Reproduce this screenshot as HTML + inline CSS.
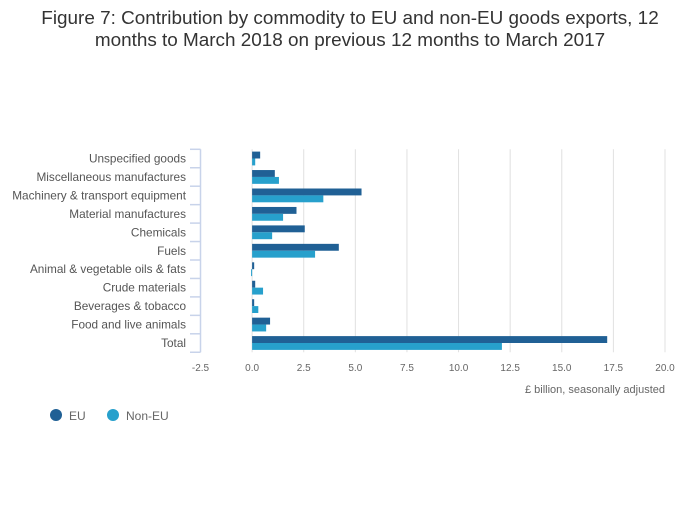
<!DOCTYPE html>
<html><head><meta charset="utf-8"><style>
body{margin:0;background:#fff;font-family:"Liberation Sans",sans-serif;}
</style></head><body>
<svg id="c" width="700" height="502" xmlns="http://www.w3.org/2000/svg">
<text x="350" y="24" text-anchor="middle" font-size="18.9" fill="#333">Figure 7: Contribution by commodity to EU and non-EU goods exports, 12</text>
<text x="350" y="46" text-anchor="middle" font-size="18.9" fill="#333">months to March 2018 on previous 12 months to March 2017</text>
<g id="grid"></g><g id="bars"></g><g id="axes"></g>
<text x="665" y="393" text-anchor="end" font-size="11" fill="#666">£ billion, seasonally adjusted</text>
<g>
<circle cx="56" cy="415" r="6" fill="#206095"/>
<text x="69" y="420" font-size="12" fill="#666">EU</text>
<circle cx="113" cy="415" r="6" fill="#27a0cc"/>
<text x="126" y="420" font-size="12" fill="#666">Non-EU</text>
</g>
</svg>
<script>
const categories=["Unspecified goods","Miscellaneous manufactures","Machinery & transport equipment","Material manufactures","Chemicals","Fuels","Animal & vegetable oils & fats","Crude materials","Beverages & tobacco","Food and live animals","Total"];
const euValues=[0.39,1.1,5.3,2.15,2.55,4.2,0.1,0.15,0.1,0.87,17.2];
const nonEuValues=[0.15,1.3,3.45,1.5,0.97,3.05,-0.05,0.53,0.3,0.68,12.1];
const xTicks=[-2.5,0,2.5,5,7.5,10,12.5,15,17.5,20];
const xTickLabels=["-2.5","0.0","2.5","5.0","7.5","10.0","12.5","15.0","17.5","20.0"];
const NS="http://www.w3.org/2000/svg";
const x0=200.5,x1=665,vmin=-2.5,vmax=20,plotTop=149.3,band=18.45;
const X=v=>x0+(v-vmin)/(vmax-vmin)*(x1-x0);
const Y=i=>plotTop+i*band;
function mk(tag,parent,attrs){const e=document.createElementNS(NS,tag);for(const k in attrs)e.setAttribute(k,attrs[k]);document.getElementById(parent).appendChild(e);return e;}
xTicks.forEach((t,i)=>{
  if(i>0){const g=mk('line','grid',{x1:X(t),x2:X(t),y1:plotTop,y2:Y(categories.length),stroke:'#e0e0e0','stroke-width':1});
  
  }
  const l=mk('text','axes',{x:X(t),y:371,'text-anchor':'middle','font-size':10,fill:'#666'});
  l.textContent=xTickLabels[i];
  
  
});
const ax=mk('line','axes',{x1:x0,x2:x0,y1:plotTop,y2:Y(categories.length),stroke:'#c8d3ea','stroke-width':1.5});


for(let i=0;i<=categories.length;i++){
  const t=mk('line','axes',{x1:190,x2:x0,y1:Y(i),y2:Y(i),stroke:'#c8d3ea','stroke-width':1.5});
  
  
}
categories.forEach((c,i)=>{
  const l=mk('text','axes',{x:186,y:Y(i)+band/2+4,'text-anchor':'end','font-size':11.8,fill:'#555'});
  l.textContent=c;
  
  
  const h=6.9, y=Y(i)+2.3;
  const a=euValues[i], b=nonEuValues[i];
  const r1=mk('rect','bars',{x:Math.min(X(0),X(a)),y:y,width:Math.abs(X(a)-X(0)),height:h,fill:'#206095'});
  
  
  const r2=mk('rect','bars',{x:Math.min(X(0),X(b)),y:y+h,width:Math.abs(X(b)-X(0)),height:h,fill:'#27a0cc'});
  
  
});
</script>
</body></html>
